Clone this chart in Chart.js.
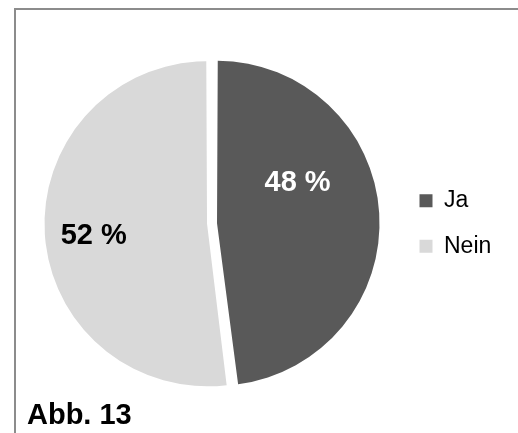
<!DOCTYPE html>
<html>
<head>
<meta charset="utf-8">
<script src="https://cdn.jsdelivr.net/npm/chart.js@4.4.1/dist/chart.umd.min.js"></script>
<style>
  html, body { margin: 0; padding: 0; background: #fff; overflow: hidden; }
  .wrap { position: relative; width: 518px; height: 433px; overflow: hidden; }
  .frame { position: absolute; left: 14px; top: 8px; width: 600px; height: 600px; border: 2px solid #8c8c8c; box-sizing: border-box; }
  canvas { position: absolute; left: 0; top: 0; }
  .caption { position: absolute; left: 27px; top: 400px; font: bold 29px/29px "Liberation Sans", Arial, sans-serif; color: #000; white-space: nowrap; }
</style>
</head>
<body>
<div class="wrap">
  <div class="frame"></div>
  <canvas id="pie" width="518" height="433"></canvas>
  <div class="caption">Abb. 13</div>
</div>
<script>
// data
const labels = ['Ja', 'Nein'];
const shares = [48, 52];
const sliceColors = ['#595959', '#d9d9d9'];
const labelColors = ['#ffffff', '#000000'];

const FONT = '"Liberation Sans", Arial, sans-serif';

// percentage labels inside the slices
const sliceLabels = {
  id: 'sliceLabels',
  afterDatasetsDraw(chart, args, opts) {
    const ctx = chart.ctx;
    const meta = chart.getDatasetMeta(0);
    const size = 29;
    meta.data.forEach((arc, i) => {
      const p = arc.getProps(['x', 'y', 'startAngle', 'endAngle', 'outerRadius', 'circumference'], true);
      const mid = (p.startAngle + p.endAngle) / 2;
      const shift = (arc.options.offset || 0) / 4;
      const fix = 1 - Math.sin(Math.min(Math.PI, p.circumference));
      const r = p.outerRadius + shift * fix;
      const cx = p.x + Math.cos(mid) * shift;
      const cy = p.y + Math.sin(mid) * shift;
      const a = mid + opts.angleShift[i] * Math.PI / 180;
      const d = r * opts.radius[i];
      ctx.save();
      ctx.font = 'bold ' + size + 'px ' + FONT;
      ctx.fillStyle = labelColors[i];
      ctx.textAlign = 'center';
      ctx.textBaseline = 'alphabetic';
      // put the middle of the digits on the label point
      ctx.fillText(shares[i] + ' %', cx + Math.cos(a) * d, cy + Math.sin(a) * d + size * 0.358);
      ctx.restore();
    });
  }
};

new Chart(document.getElementById('pie'), {
  type: 'pie',
  data: {
    labels: labels,
    datasets: [{
      data: shares,
      backgroundColor: sliceColors,
      borderWidth: 0,
      offset: [21.3, 18.7],
      hoverOffset: 0
    }]
  },
  options: {
    responsive: false,
    animation: false,
    devicePixelRatio: 1,
    layout: { padding: { top: 55, bottom: 41, left: 26.4, right: 16.7 } },
    plugins: {
      tooltip: { enabled: false },
      legend: {
        position: 'right',
        labels: {
          boxWidth: 13,
          boxHeight: 13,
          padding: 22.5,
          color: '#000',
          font: { family: FONT, size: 23 }
        }
      },
      sliceLabels: {
        radius: [0.562, 0.70],
        angleShift: [-24.5, -1.5]
      }
    }
  },
  plugins: [sliceLabels]
});
</script>
</body>
</html>
